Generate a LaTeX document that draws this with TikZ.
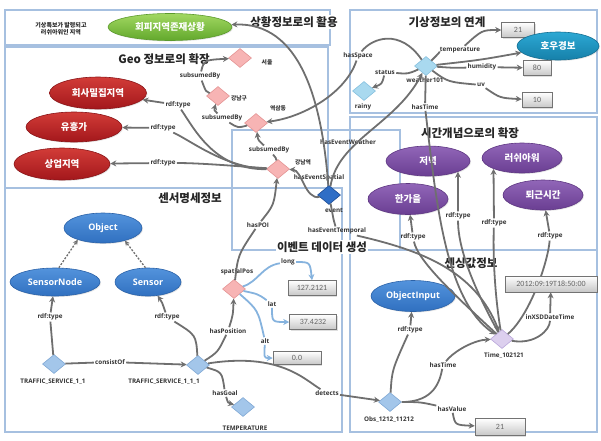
\documentclass[tikz,border=0pt]{standalone}
\usepackage{fontspec}
\setmainfont{Open Sans}
\newfontfamily\krfont{Noto Sans CJK KR}
\newfontfamily\valfont{Carlito}
\usetikzlibrary{shapes.geometric,arrows.meta,shadows}
\pgfdeclarelayer{front}
\pgfsetlayers{main,front}

\definecolor{panelline}{HTML}{A6C0E0}
\definecolor{linkgray}{HTML}{6F6F6F}
\definecolor{linkblue}{HTML}{86B3DE}
\definecolor{pinkfill}{HTML}{F7B4B4}
\definecolor{pinkline}{HTML}{E49494}
\definecolor{skyfill}{HTML}{A9D9EF}
\definecolor{skyline}{HTML}{86C0DE}
\definecolor{sensfill}{HTML}{A3C6EA}
\definecolor{sensline}{HTML}{80A8D4}
\definecolor{eventfill}{HTML}{2F6EC6}
\definecolor{eventline}{HTML}{1D4C94}
\definecolor{lilacfill}{HTML}{DCCFEE}
\definecolor{lilacline}{HTML}{B9A6DA}
\definecolor{greentop}{HTML}{A2D862}
\definecolor{greenbot}{HTML}{62A82C}
\definecolor{greenline}{HTML}{5C9A2C}
\definecolor{redtop}{HTML}{D23C38}
\definecolor{redbot}{HTML}{A3171B}
\definecolor{redline}{HTML}{8A1518}
\definecolor{purptop}{HTML}{9166B8}
\definecolor{purpbot}{HTML}{6A3E92}
\definecolor{purpline}{HTML}{5E3782}
\definecolor{bluetop}{HTML}{5393DC}
\definecolor{bluebot}{HTML}{3070C0}
\definecolor{blueline}{HTML}{2B62A8}
\definecolor{tealtop}{HTML}{2CA8D4}
\definecolor{tealbot}{HTML}{1680A9}
\definecolor{tealline}{HTML}{146E92}

\begin{document}
\begin{tikzpicture}[x=1pt,y=-1pt,
  panel/.style={draw=panelline, line width=1.3pt},
  heading/.style={font=\krfont\bfseries\fontsize{11.5}{13}\selectfont, text=black!85, inner sep=1.5pt, fill=white},
  oval/.style={ellipse, inner sep=0pt, line width=0.6pt, text=white,
    font=\krfont\bfseries\fontsize{9.5}{11}\selectfont,
    drop shadow={opacity=0.2, shadow xshift=1pt, shadow yshift=-1pt}},
  greenoval/.style={oval, top color=greentop, bottom color=greenbot, draw=greenline},
  redoval/.style={oval, top color=redtop, bottom color=redbot, draw=redline},
  purpleoval/.style={oval, top color=purptop, bottom color=purpbot, draw=purpline},
  blueoval/.style={oval, top color=bluetop, bottom color=bluebot, draw=blueline,
    font=\bfseries\fontsize{9}{11}\selectfont},
  tealoval/.style={oval, top color=tealtop, bottom color=tealbot, draw=tealline},
  gdia/.style={diamond, inner sep=0pt, line width=0.6pt, minimum width=23pt, minimum height=19pt},
  pinkdia/.style={gdia, fill=pinkfill, draw=pinkline},
  skydia/.style={gdia, fill=skyfill, draw=skyline},
  sensdia/.style={gdia, fill=sensfill, draw=sensline},
  eventdia/.style={gdia, fill=eventfill, draw=eventline},
  lilacdia/.style={gdia, fill=lilacfill, draw=lilacline},
  lbl/.style={font=\bfseries\fontsize{6.3}{7.5}\selectfont, text=black!80, inner sep=1.2pt},
  krlbl/.style={font=\krfont\bfseries\fontsize{5.8}{7}\selectfont, text=black!80, inner sep=1.2pt},
  valbox/.style={rectangle, draw=black!55, line width=0.5pt, top color=white, bottom color=black!22,
    text=black!60, font=\valfont\fontsize{8}{9}\selectfont, minimum height=15pt, inner sep=1pt,
    drop shadow={opacity=0.25, shadow xshift=1pt, shadow yshift=-1pt}},
  link/.style={draw=linkgray, line width=1.8pt, -{Stealth[length=6pt,width=6pt]}},
  blink/.style={link, draw=linkblue},
  dlink/.style={draw=linkgray, line width=1.3pt, dash pattern=on 2pt off 1.5pt, -{Stealth[length=5pt,width=5pt]}}
]
\useasboundingbox (0,0) rectangle (601,440);

% ---------- panels ----------
\draw[panel] (5,10) rectangle (330,45);
\draw[panel] (5,47) rectangle (328,188);
\draw[panel] (350,10) rectangle (597,113);
\draw[panel] (350,117) rectangle (597,250);
\draw[panel] (5,188) rectangle (342,432);
\draw[panel] (350,250) rectangle (597,432);
\draw[panel] (232,130) rectangle (400,250);

% ---------- headings ----------
\node[heading] (hsit)  at (294,22)  {상황정보로의 활용};
\node[heading] (hgeo)  at (164,59)  {Geo 정보로의 확장};
\node[heading] (hwea)  at (447,22)  {기상정보의 연계};
\node[heading] (htime) at (470,133) {시간개념으로의 확장};
\node[heading] (hsens) at (190,198) {센서명세정보};
\node[heading] (hevt)  at (322,247) {이벤트 데이터 생성};
\node[heading] (hval)  at (471,263) {센싱값정보};

% ---------- situation ----------
\node[font=\krfont\bfseries\fontsize{6}{7.5}\selectfont, align=center, text=black!85] (cap) at (61,29)
  {기상특보가 발령되고\\러쉬아워인 지역};
\node[greenoval, minimum width=124pt, minimum height=27pt] (avoid) at (170,27) {회피지역존재상황};

% ---------- geo ----------
\node[pinkdia] (seoul) at (240,58) {};
\node[pinkdia] (gangnamgu) at (218,96) {};
\node[pinkdia] (yeoksam) at (256,123) {};
\node[pinkdia] (gangnamyeok) at (278,169) {};
\node[krlbl] (lseoul) at (267,62) {서울};
\node[krlbl] (lgangnamgu) at (239,98) {강남구};
\node[krlbl] (lyeoksam) at (278,108) {역삼동};
\node[krlbl] (lgangnamyeok) at (303,162) {강남역};
\node[lbl] (lsub1) at (200,76) {subsumedBy};
\node[lbl] (lsub2) at (222,118) {subsumedBy};
\node[lbl] (lsub3) at (269,150) {subsumedBy};

\node[redoval, minimum width=97pt, minimum height=32pt] (hoesa) at (98,93) {회사밀집지역};
\node[redoval, minimum width=96pt, minimum height=30pt] (yuheung) at (74,127) {유흥가};
\node[redoval, minimum width=96pt, minimum height=32pt] (sangeop) at (62,164) {상업지역};
\node[lbl] (lrdf1) at (178,105) {rdf:type};
\node[lbl] (lrdf2) at (163,128) {rdf:type};
\node[lbl] (lrdf3) at (163,163) {rdf:type};

% ---------- weather ----------
\node[skydia] (w101) at (426,66) {};
\node[skydia] (rainy) at (364,91) {};
\node[lbl] (lw101) at (425,80) {weather101};
\node[lbl] (lrainy) at (363,107) {rainy};
\node[lbl] (lstatus) at (385,72) {status};
\node[lbl] (lspace) at (358,56) {hasSpace};
\node[lbl] (ltemp) at (460,50) {temperature};
\node[lbl] (lhum) at (482,67) {humidity};
\node[lbl] (luv) at (481,85) {uv};
\node[lbl] (lhastime1) at (425,107) {hasTime};
\node[valbox, minimum width=33pt] (v21a) at (518,30) {21};
\node[valbox, minimum width=28pt] (v80) at (537,68) {80};
\node[valbox, minimum width=30pt] (v10) at (537,100) {10};
\node[tealoval, minimum width=82pt, minimum height=28pt] (hougyeong) at (558,46) {호우경보};

% ---------- time concepts ----------
\node[purpleoval, minimum width=84pt, minimum height=30pt] (jeonyeok) at (428,161) {저녁};
\node[purpleoval, minimum width=80pt, minimum height=31pt] (hangaeul) at (408,199) {한가을};
\node[purpleoval, minimum width=80pt, minimum height=30pt] (rush) at (522,158) {러쉬아워};
\node[purpleoval, minimum width=80pt, minimum height=30pt] (toegeun) at (543,195) {퇴근시간};
\node[lbl] (lrdfT1) at (413,237) {rdf:type};
\node[lbl] (lrdfT2) at (458,216) {rdf:type};
\node[lbl] (lrdfT3) at (494,223) {rdf:type};
\node[lbl] (lrdfT4) at (550,236) {rdf:type};

% ---------- event ----------
\node[eventdia] (event) at (329,195) {};
\node[lbl] (levent) at (334,210) {event};
\node[lbl] (lEW) at (348,142) {hasEventWeather};
\node[lbl] (lES) at (319,178) {hasEventSpatial};
\node[lbl] (lET) at (337,231) {hasEventTemporal};
\node[lbl] (lpoi) at (258,225) {hasPOI};

% ---------- sensor description ----------
\node[blueoval, minimum width=78pt, minimum height=30pt] (object) at (103,228) {Object};
\node[blueoval, minimum width=90pt, minimum height=28pt] (sensornode) at (55,282) {SensorNode};
\node[blueoval, minimum width=66pt, minimum height=28pt] (sensor) at (148,282) {Sensor};
\node[lbl] (lrdfS1) at (50,317) {rdf:type};
\node[lbl] (lrdfS2) at (167,317) {rdf:type};
\node[sensdia] (ts11) at (54,364) {};
\node[sensdia] (ts111) at (198,365) {};
\node[lbl] (lts11) at (53,382) {TRAFFIC\_SERVICE\_1\_1};
\node[lbl] (lts111) at (164,382) {TRAFFIC\_SERVICE\_1\_1\_1};
\node[lbl] (lconsist) at (110,362) {consistOf};
\node[pinkdia] (spatialpos) at (234,289) {};
\node[lbl] (lspatial) at (237,272) {spatialPos};
\node[lbl] (llong) at (288,262) {long};
\node[lbl] (llat) at (272,304) {lat};
\node[lbl] (lalt) at (265,341) {alt};
\node[valbox, minimum width=48pt] (v127) at (312,288) {127.2121};
\node[valbox, minimum width=47pt] (v374) at (313,322) {37.4232};
\node[valbox, minimum width=48pt, minimum height=13pt] (v00) at (297,358) {0.0};
\node[lbl] (lpos) at (228,331) {hasPosition};
\node[lbl] (lgoal) at (225,393) {hasGoal};
\node[sensdia] (tempr) at (243,407) {};
\node[lbl] (ltempr) at (245,428) {TEMPERATURE};
\node[lbl] (ldetects) at (327,393) {detects};

% ---------- sensing values ----------
\node[sensdia] (obs) at (390,402) {};
\node[lbl] (lobs) at (389,420) {Obs\_1212\_11212};
\node[blueoval, minimum width=84pt, minimum height=31pt] (objinput) at (413,296) {ObjectInput};
\node[lbl] (lrdfO) at (410,330) {rdf:type};
\begin{pgfonlayer}{front}
  % the timestamp box sits over the lines that run behind it
  \node[valbox, minimum width=92pt, minimum height=16pt] (datebox) at (551,284) {2012:09:19T18:50:00};
\end{pgfonlayer}
\node[lbl] (lxsd) at (550,317) {inXSDDateTime};
\node[lilacdia] (time) at (502,339) {};
\node[lbl] (ltime) at (504,356) {Time\_102121};
\node[lbl] (lhastime2) at (443,365) {hasTime};
\node[lbl] (lhasval) at (452,409) {hasValue};
\node[valbox, minimum width=50pt, minimum height=17pt] (v21b) at (500,427) {21};

% ---------- connectors: geo ----------
\draw[link] (gangnamgu) .. controls (206,92) .. (lsub1) .. controls (204,60) .. (seoul);
\draw[link] (yeoksam) .. controls (238,128) .. (lsub2) .. controls (214,110) .. (gangnamgu);
\draw[link] (gangnamyeok) .. controls (276,158) .. (lsub3) .. controls (258,140) .. (yeoksam);
\draw[link] (gangnamyeok) .. controls (215,170) and (195,130) .. (lrdf1) -- (hoesa);
\draw[link] (gangnamyeok) .. controls (225,168) and (190,140) .. (lrdf2) -- (yuheung);
\draw[link] (gangnamyeok) .. controls (235,166) and (200,163) .. (lrdf3) -- (sangeop);

% ---------- connectors: event ----------
\draw[link] (spatialpos) .. controls (238,255) .. (lpoi) .. controls (274,205) .. (gangnamyeok);
\draw[link] (event) .. controls (305,200) and (302,170) .. (gangnamyeok);
\draw[link] (event) .. controls (322,100) and (300,22) .. (avoid);
\draw[link] (event) .. controls (338,140) and (395,125) .. (w101);
\draw[link] (event) .. controls (334,222) .. (lET) .. controls (420,250) and (475,270) .. (time);

% ---------- connectors: weather ----------
\draw[link] (w101) .. controls (400,28) and (372,38) .. (lspace) .. controls (345,95) and (300,118) .. (yeoksam);
\draw[link] (w101) .. controls (408,74) .. (lstatus) .. controls (382,84) .. (rainy);
\draw[link] (w101) .. controls (440,52) .. (ltemp) .. controls (482,30) .. (v21a);
\draw[link] (w101) .. controls (480,60) .. (hougyeong);
\draw[link] (w101) .. controls (455,68) .. (lhum) -- (v80);
\draw[link] (w101) .. controls (448,82) .. (luv) .. controls (500,98) .. (v10);
\draw[link] (w101) -- (lhastime1) .. controls (436,200) and (445,300) .. (time);

% ---------- connectors: time ----------
\draw[link] (time) .. controls (460,300) and (418,262) .. (lrdfT1) -- (hangaeul);
\draw[link] (time) .. controls (475,290) and (458,250) .. (lrdfT2) -- (jeonyeok.south east);
\draw[link] (time) .. controls (494,290) and (493,250) .. (lrdfT3) -- (rush.south west);
\draw[link] (time) .. controls (530,315) and (548,262) .. (lrdfT4) -- (toegeun);
\draw[link] (time) .. controls (535,345) and (550,330) .. (lxsd) -- (datebox);

% ---------- connectors: observation ----------
\draw[link] (obs) .. controls (435,402) and (440,380) .. (lhastime2) .. controls (455,350) and (475,340) .. (time);
\draw[link] (obs) .. controls (420,402) .. (lhasval) .. controls (455,425) .. (v21b);
\draw[link] (obs) .. controls (392,370) .. (lrdfO) -- (objinput);

% ---------- connectors: sensors ----------
\draw[link] (ts11) -- (lconsist) -- (ts111);
\draw[link] (ts11) -- (lrdfS1) -- (sensornode);
\draw[link] (ts111) .. controls (196,335) .. (lrdfS2) .. controls (162,302) .. (sensor);
\draw[dlink] (sensornode.75) -- (object.205);
\draw[dlink] (sensor.100) -- (object.330);
\draw[link] (ts111) .. controls (218,352) .. (lpos) .. controls (233,315) .. (spatialpos);
\draw[link] (ts111) .. controls (222,372) .. (lgoal) .. controls (228,403) .. (tempr);
\draw[link] (ts111) .. controls (280,352) and (305,380) .. (ldetects) -- (obs);

% ---------- position values ----------
\draw[blink] (spatialpos) .. controls (258,282) and (262,266) .. (llong) .. controls (310,262) .. (v127.north);
\draw[blink] (spatialpos) .. controls (258,294) .. (llat) .. controls (272,322) .. (v374);
\draw[blink] (spatialpos) .. controls (258,310) .. (lalt) .. controls (264,358) .. (v00);
\end{tikzpicture}
\end{document}
